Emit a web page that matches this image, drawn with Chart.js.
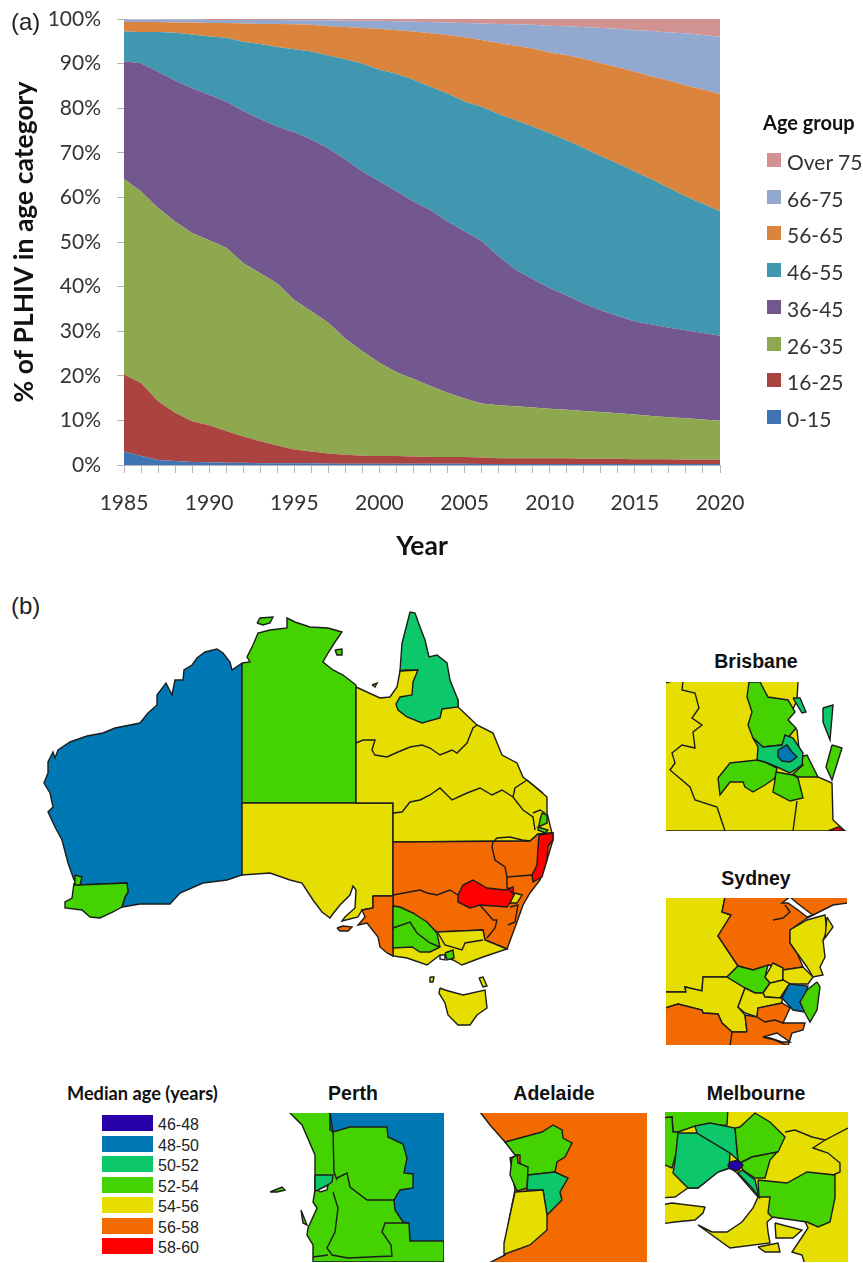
<!DOCTYPE html>
<html>
<head>
<meta charset="utf-8">
<title>PLHIV age</title>
<script src="https://cdn.jsdelivr.net/npm/chart.js@4/dist/chart.umd.min.js"></script>
<style>
   html, body { margin: 0; padding: 0; background: #fff; }
   #page { position: relative; width: 863px; height: 1263px; overflow: hidden; }
   canvas { position: absolute; display: block; }
   .txt { position: absolute; white-space: nowrap; line-height: 1; }
   .panel { font: bold 19.5px "Liberation Sans", sans-serif; color: #111; transform: translateX(-50%); }
   .tag { font: 24px "Liberation Sans", sans-serif; color: #222; }
   .sw { position: absolute; }
</style>
</head>
<body>
<div id="page"></div>
<script>
// panel (a): share of PLHIV per age group
const years = [];
for (let y = 1985; y <= 2020; y++) years.push(String(y));
const yTicks = [0, 10, 20, 30, 40, 50, 60, 70, 80, 90, 100];
const ageGroups = ['0-15', '16-25', '26-35', '36-45', '46-55', '56-65', '66-75', 'Over 75'];
const ageColors = ['#3F74B2', '#AB4441', '#8DA84E', '#72588F', '#4197B0', '#DB843D', '#92A8CF', '#D09391'];
const age0to15 = [3.0, 2.0, 1.1, 0.9, 0.7, 0.6, 0.5, 0.5, 0.4, 0.4, 0.4, 0.4, 0.3, 0.3, 0.3, 0.3, 0.3, 0.3, 0.3, 0.3, 0.3, 0.2, 0.2, 0.2, 0.2, 0.2, 0.2, 0.2, 0.2, 0.2, 0.2, 0.2, 0.2, 0.2, 0.2, 0.2];
const age16to25 = [17.3, 16.4, 13.2, 10.8, 9.1, 8.3, 7.1, 5.9, 4.9, 4.0, 3.1, 2.6, 2.3, 2.0, 1.8, 1.7, 1.7, 1.6, 1.5, 1.5, 1.5, 1.5, 1.3, 1.3, 1.3, 1.3, 1.3, 1.2, 1.2, 1.2, 1.1, 1.1, 1.1, 1.0, 1.0, 1.0];
const age26to35 = [43.8, 42.9, 43.3, 42.9, 42.2, 41.5, 41.1, 38.9, 37.7, 36.3, 33.5, 31.5, 29.3, 26.0, 23.4, 20.9, 18.8, 17.4, 15.9, 14.4, 13.1, 12.1, 11.9, 11.7, 11.4, 11.1, 10.9, 10.7, 10.5, 10.2, 10.0, 9.7, 9.4, 9.3, 9.0, 8.7];
const age36to45 = [26.4, 28.8, 30.6, 31.6, 32.5, 32.6, 32.8, 34.1, 34.6, 35.2, 37.6, 38.5, 39.1, 40.2, 40.3, 40.7, 40.6, 39.8, 39.4, 38.4, 37.5, 36.4, 33.4, 30.6, 28.8, 27.1, 25.6, 24.1, 22.8, 21.8, 20.9, 20.5, 20.1, 19.7, 19.4, 19.1];
const age46to55 = [6.7, 7.0, 8.9, 10.7, 12.0, 13.1, 14.3, 15.5, 16.8, 17.8, 18.6, 19.7, 20.8, 22.5, 24.2, 25.0, 26.3, 27.3, 27.7, 28.7, 29.1, 30.1, 31.9, 33.5, 34.2, 34.7, 34.8, 34.9, 34.5, 34.2, 33.6, 32.5, 31.3, 30.0, 29.0, 27.9];
const age56to65 = [2.1, 2.2, 2.2, 2.3, 2.7, 3.0, 3.3, 4.1, 4.5, 5.2, 5.6, 6.0, 6.6, 7.2, 8.0, 9.2, 9.8, 10.8, 12.0, 13.1, 14.4, 15.0, 15.9, 16.7, 17.5, 18.1, 19.1, 20.0, 20.9, 21.6, 22.4, 23.1, 24.1, 24.9, 25.6, 26.3];
const age66to75 = [0.6, 0.6, 0.6, 0.7, 0.7, 0.7, 0.7, 0.8, 0.9, 0.9, 0.9, 1.0, 1.3, 1.4, 1.6, 1.8, 2.0, 2.2, 2.5, 2.8, 3.2, 3.7, 4.3, 4.8, 5.3, 6.0, 6.5, 7.1, 7.9, 8.6, 9.3, 10.2, 10.8, 11.7, 12.2, 12.8];
const ageOver75 = [0.1, 0.1, 0.1, 0.1, 0.1, 0.2, 0.2, 0.2, 0.2, 0.2, 0.3, 0.3, 0.3, 0.4, 0.4, 0.4, 0.5, 0.6, 0.7, 0.8, 0.9, 1.0, 1.1, 1.2, 1.3, 1.5, 1.6, 1.8, 2.0, 2.2, 2.5, 2.7, 3.0, 3.2, 3.6, 4.0];
const ageSeries = [age0to15, age16to25, age26to35, age36to45, age46to55, age56to65, age66to75, ageOver75];

// panel (b): median age classes
const medianClasses = ['46-48', '48-50', '50-52', '52-54', '54-56', '56-58', '58-60'];
const medianColors = ['#2800AA', '#0078B4', '#0CC86A', '#44D200', '#E6DE00', '#F26A00', '#FF0000'];
const [M46, M48, M50, M52, M54, M56, M58] = medianColors;

// region outlines, vertices in map units
const waOutline = [[242,663],[232,670],[230,662],[223,653],[217,649],[205,652],[197,658],[192,665],[184,670],[183,680],[175,680],[172,695],[166,683],[157,695],[157,705],[148,713],[140,723],[115,728],[103,733],[87,736],[70,742],[58,750],[55,758],[53,752],[48,762],[48,773],[44,783],[50,793],[53,807],[48,812],[55,827],[62,840],[68,863],[74,880],[78,885],[127,883],[128,892],[125,897],[122,907],[140,904],[170,904],[180,893],[203,883],[227,880],[242,875]];
const swWa = [[74,883],[78,885],[127,883],[128,892],[125,897],[122,907],[113,912],[100,918],[90,917],[82,910],[65,908],[65,902],[72,898]];
const perthArea = [[75,875],[82,877],[80,885],[75,885]];
const ntOutline = [[242,663],[250,662],[247,657],[253,645],[258,633],[270,630],[287,628],[287,618],[295,622],[310,627],[328,628],[342,632],[335,642],[328,653],[323,662],[333,670],[343,675],[356,685],[356,803],[242,803]];
const tiwi = [[257,623],[260,618],[273,617],[270,623],[263,625]];
const groote = [[335,650],[342,649],[342,655],[337,655]];
const saOutline = [[242,803],[393,803],[393,896],[373,896],[373,908],[362,910],[358,917],[342,921],[345,917],[355,908],[356,890],[353,886],[350,895],[340,905],[332,915],[330,918],[322,912],[313,900],[302,883],[290,880],[270,873],[242,875]];
const seSa = [[373,896],[393,896],[393,956],[387,953],[380,947],[378,937],[367,923],[358,925],[365,917],[362,910],[373,908]];
const kangaroo = [[337,928],[343,926],[352,927],[348,931],[340,931]];
const qldOutline = [[356,687],[380,698],[390,697],[397,687],[400,671],[418,670],[440,690],[458,700],[458,707],[477,725],[493,733],[502,755],[517,763],[523,777],[533,785],[547,797],[547,813],[552,833],[538,834],[530,841],[393,842],[393,803],[356,803]];
const farNorthQld = [[410,612],[415,613],[420,627],[425,640],[429,657],[437,655],[447,663],[450,680],[458,700],[458,707],[442,709],[440,718],[422,723],[407,717],[398,710],[396,704],[400,697],[412,695],[413,682],[418,670],[405,670],[400,671],[402,643],[408,620]];
const qldLineA = [[356,743],[363,740],[375,740],[372,750],[375,755],[387,757],[398,752],[410,747],[422,745],[430,748],[440,755],[452,750],[457,753],[467,743],[473,728],[477,725]];
const qldLineB = [[393,813],[402,812],[410,802],[420,800],[430,795],[440,788],[452,800],[467,793],[480,788],[492,795],[502,790],[513,797],[523,810],[533,817],[535,830]];
const qldLineC = [[513,797],[515,788],[527,780],[543,793]];
const qldLineD = [[533,813],[540,810],[545,813]];
const brisbaneSmall = [[542,813],[547,815],[547,823],[538,827],[548,830],[545,833],[538,830],[540,820]];
const mornington = [[372,685],[377,683],[375,687]];
const nswOutline = [[393,842],[530,841],[538,834],[553,833],[553,840],[547,860],[540,880],[530,893],[523,905],[517,922],[507,949],[485,940],[483,930],[437,932],[413,913],[393,906]];
const vicOutline = [[393,906],[393,956],[407,958],[427,965],[440,955],[453,960],[462,965],[483,957],[507,949],[485,940],[483,930],[437,932],[413,913]];
const westVic = [[393,906],[400,907],[413,913],[427,922],[437,933],[440,947],[430,952],[420,952],[412,947],[393,948]];
const eastMelb = [[445,953],[453,950],[454,958],[447,960]];
const portPhillip = [[440,955],[445,955],[445,960],[440,959]];
const centralNsw = [[458,895],[463,885],[473,880],[487,888],[505,890],[513,887],[514,897],[507,907],[480,905],[470,908],[458,902]];
const northCoastNsw = [[539,835],[553,833],[553,840],[548,846],[547,860],[542,877],[533,882],[532,875],[537,865],[538,847]];
const sydneyNorth = [[515,893],[522,895],[517,903],[510,903]];
const vicLineA = [[393,928],[410,922],[417,933],[430,943],[440,947]];
const vicLineB = [[438,933],[445,945],[462,950],[465,943],[483,940]];
const nswLineA = [[393,895],[420,890],[427,893],[437,895],[450,890],[458,895]];
const nswLineB = [[493,842],[492,847],[495,860],[505,867],[507,877],[532,875]];
const nswLineC = [[507,877],[507,887],[514,895]];
const nswLineD = [[480,905],[493,920],[497,920],[495,928],[487,938]];
const nswLineE = [[510,907],[518,905],[515,922],[508,925]];
const nswLineF = [[493,842],[497,838],[510,837],[522,840],[530,841]];
const tasmania = [[440,988],[445,990],[463,995],[485,990],[487,1008],[477,1015],[470,1025],[458,1025],[448,1015],[445,1003],[439,993]];
const kingIsland = [[430,977],[434,977],[433,982],[430,982]];
const flinders = [[479,978],[483,977],[487,986],[483,987]];

const bneBase = [[665,681],[798,681],[797,700],[788,720],[797,730],[800,757],[818,777],[832,783],[833,820],[845,831],[665,831]];
const bneNorth = [[749,682],[760,682],[768,697],[788,700],[795,712],[788,720],[796,728],[782,745],[763,747],[753,738],[748,725],[752,712],[747,697]];
const bneWest = [[718,778],[730,763],[757,760],[765,762],[777,768],[775,778],[765,785],[753,792],[745,787],[743,782],[730,782],[720,795]];
const bneSouth = [[776,772],[793,775],[798,778],[803,798],[790,801],[773,792],[775,780]];
const bneEast = [[800,757],[807,755],[818,777],[798,777],[793,774],[803,765]];
const bneRing = [[753,738],[763,747],[782,745],[785,735],[793,738],[803,753],[802,765],[790,773],[777,767],[765,762],[757,760],[758,747]];
const bneInner = [[778,750],[787,745],[792,752],[797,757],[790,762],[782,761],[778,757]];
const bneStradN = [[823,708],[833,705],[830,740],[823,722]];
const bneStradS = [[832,745],[842,748],[832,780],[826,767]];
const bneBribie = [[793,698],[800,698],[806,712],[802,713]];
const bneRed = [[828,831],[838,827],[845,831]];
const bneLineA = [[683,681],[682,690],[695,693],[699,708],[692,718],[702,725],[693,732],[695,748],[682,745],[672,753],[675,763],[670,770],[690,787],[695,800],[717,807],[725,831]];
const bneLineB = [[665,683],[673,681]];
const bneLineC = [[797,801],[793,831]];

const sydWest = [[665,897],[725,897],[722,912],[731,915],[718,936],[738,966],[727,977],[703,977],[702,991],[685,987],[686,992],[665,992]];
const sydBand = [[665,992],[686,992],[685,987],[702,991],[703,977],[727,977],[745,988],[738,1007],[745,1015],[747,1032],[732,1032],[722,1023],[718,1014],[703,1013],[702,1010],[678,1004],[665,1008]];
const sydNorth = [[725,897],[848,897],[848,903],[833,905],[813,915],[807,918],[790,930],[790,943],[797,953],[803,967],[783,970],[770,965],[753,970],[738,966],[718,936],[731,915],[722,912]];
const sydHornsby = [[790,930],[807,920],[825,915],[827,932],[823,940],[825,957],[820,967],[823,975],[813,977],[807,967],[797,953],[790,943]];
const sydIslet = [[827,917],[833,927],[825,938]];
const sydCentral = [[727,977],[738,966],[753,970],[768,965],[765,977],[770,983],[763,993],[755,993],[745,988]];
const sydY3 = [[765,977],[773,963],[783,968],[783,980],[775,982],[770,983]];
const sydY4 = [[783,970],[803,967],[813,977],[808,984],[790,984],[783,980]];
const sydY5 = [[763,993],[770,983],[783,980],[790,984],[788,986],[780,998],[765,997]];
const sydY6 = [[745,988],[755,993],[763,993],[765,997],[782,998],[782,1003],[758,1008],[757,1017],[745,1013],[738,1007]];
const sydInner = [[790,984],[808,986],[805,995],[800,1002],[805,1012],[793,1010],[782,998],[788,986]];
const sydEast = [[817,982],[820,987],[817,1010],[810,1022],[805,1013],[800,1002],[807,990]];
const sydSouthW = [[665,1008],[678,1004],[702,1010],[703,1013],[718,1014],[722,1023],[732,1032],[733,1046],[665,1046]];
const sydSouthE = [[747,1032],[745,1015],[757,1017],[758,1008],[782,1003],[790,1008],[783,1023],[805,1023],[803,1030],[792,1033],[788,1046],[730,1046],[732,1032]];
const sydInletN = [[790,897],[797,903],[810,913],[813,915],[807,917],[798,910],[788,903],[782,903]];
const sydInletS = [[763,1037],[777,1033],[790,1042],[782,1042],[770,1038]];
const sydJagA = [[773,920],[783,918],[790,912],[785,905]];
const sydJagB = [[757,1017],[765,1022],[775,1020],[783,1023]];
const sydJagC = [[763,1037],[775,1040],[788,1046]];

const perGreen = [[289,1112],[330,1112],[444,1112],[444,1262],[313,1262],[313,1245],[307,1235],[308,1228],[317,1208],[313,1202],[315,1190],[315,1155],[302,1125]];
const perBlue = [[330,1112],[446,1112],[446,1241],[410,1241],[409,1223],[403,1222],[395,1210],[394,1200],[400,1190],[413,1188],[413,1174],[404,1173],[407,1158],[403,1144],[388,1137],[387,1127],[350,1127],[333,1132],[330,1130]];
const perTeal = [[315,1175],[333,1175],[332,1182],[320,1190],[315,1191]];
const perRiver = [[318,1190],[328,1185],[327,1190],[320,1192]];
const perLineA = [[330,1112],[333,1132],[334,1172],[337,1180]];
const perLineB = [[337,1178],[347,1173],[350,1187],[367,1200],[395,1200]];
const perLineC = [[333,1192],[338,1208],[335,1232],[327,1248],[332,1255],[348,1258],[392,1256],[391,1245],[382,1232],[385,1223],[409,1223]];
const perLineD = [[313,1257],[328,1255]];
const rottnest = [[270,1192],[282,1187],[285,1190],[277,1192]];
const garden = [[301,1210],[307,1225],[303,1223]];

const adlBase = [[480,1112],[649,1112],[649,1264],[487,1264],[505,1255],[505,1243],[510,1215],[515,1190],[510,1158],[518,1155],[505,1142],[490,1125]];
const adlNorth = [[505,1142],[542,1132],[553,1125],[562,1130],[563,1138],[572,1143],[565,1157],[557,1162],[555,1172],[540,1174],[528,1175],[520,1163],[520,1155],[515,1155]];
const adlCoast = [[512,1158],[517,1155],[518,1163],[528,1167],[527,1188],[517,1191],[510,1175]];
const adlHills = [[528,1175],[555,1172],[568,1178],[560,1192],[562,1200],[547,1215],[543,1190],[527,1190]];
const adlSouth = [[515,1192],[543,1190],[547,1215],[547,1230],[530,1245],[505,1254],[504,1243],[510,1215]];

const melBase = [[665,1112],[848,1112],[848,1262],[665,1262]];
const melWater = [[660,1198],[675,1197],[688,1188],[698,1188],[718,1172],[730,1168],[737,1173],[758,1197],[753,1208],[742,1222],[727,1232],[712,1232],[698,1225],[730,1248],[770,1243],[768,1232],[767,1222],[773,1217],[802,1215],[808,1228],[800,1240],[792,1252],[802,1255],[806,1268],[660,1268]];
const melBellarine = [[660,1205],[672,1203],[705,1207],[703,1213],[695,1220],[675,1222],[660,1224]];
const melFrench = [[775,1223],[802,1230],[793,1238],[776,1238]];
const melPhillip = [[758,1247],[778,1243],[780,1252],[765,1252]];
const melTop = [[660,1108],[728,1108],[727,1125],[695,1126],[678,1132],[673,1132],[672,1117],[660,1118]];
const melLeft = [[660,1118],[672,1117],[673,1132],[678,1132],[677,1150],[672,1168],[660,1163]];
const melT1 = [[678,1133],[697,1133],[730,1153],[729,1168],[718,1172],[698,1188],[688,1188],[673,1173],[675,1162]];
const melT2 = [[695,1126],[710,1123],[735,1128],[738,1160],[730,1153],[697,1133]];
const melG3 = [[735,1128],[740,1127],[755,1113],[770,1122],[785,1137],[778,1152],[752,1157],[740,1163],[738,1160]];
const melG4 = [[740,1163],[752,1157],[777,1152],[770,1160],[765,1178],[755,1178],[743,1170]];
const melT3 = [[742,1170],[755,1180],[759,1197],[752,1188],[738,1173]];
const melG5 = [[758,1180],[787,1183],[807,1172],[835,1175],[835,1198],[830,1222],[818,1227],[807,1222],[772,1217],[768,1213],[770,1197],[759,1197]];
const melCentre = [[730,1162],[738,1160],[743,1165],[738,1171],[730,1169],[728,1165]];
const melLineA = [[785,1132],[795,1130],[812,1137],[825,1140],[848,1128]];
const melLineB = [[825,1140],[813,1148],[828,1153],[840,1163],[840,1172],[833,1175]];

const WHITE = '#ffffff';
const page = document.getElementById('page');

function addText(cls, left, top, text, css) {
   const d = document.createElement('div');
   d.className = 'txt ' + cls;
   d.style.left = left + 'px';
   d.style.top = top + 'px';
   if (css) d.style.cssText += css;
   d.textContent = text;
   page.appendChild(d);
}

function addCanvas(left, top, width, height) {
   const c = document.createElement('canvas');
   c.width = width;
   c.height = height;
   c.style.left = left + 'px';
   c.style.top = top + 'px';
   page.appendChild(c);
   return c.getContext('2d');
}

// Stacked area chart
new Chart(addCanvas(0, 0, 863, 570), {
   type: 'line',
   data: {
      labels: years,
      datasets: ageSeries.map((values, i) => ({
         label: ageGroups[i],
         data: values,
         fill: i === 0 ? 'origin' : '-1',
         backgroundColor: ageColors[i],
         borderWidth: 0,
         pointRadius: 0,
         tension: 0
      }))
   },
   options: {
      responsive: false,
      animation: false,
      layout: { padding: { top: 19, right: 143, left: 0, bottom: 0 } },
      plugins: { legend: { display: false }, tooltip: { enabled: false } },
      scales: {
         x: {
            grid: { drawOnChartArea: false, color: '#b4b4b4', tickLength: 8 },
            border: { color: '#b4b4b4' },
            afterFit: s => { s.height = 105; },
            ticks: {
               autoSkip: false,
               maxRotation: 0,
               padding: 18,
               color: '#333',
               font: { family: 'Lato', size: 21 },
               callback: function (v, i) { return i % 5 === 0 ? years[i] : ''; }
            },
            title: {
               display: true,
               text: 'Year',
               color: '#111',
               font: { family: 'Lato', size: 26.5, weight: 'bold' },
               padding: { top: 0, bottom: 8 }
            }
         },
         y: {
            stacked: true,
            min: 0,
            max: 100,
            grid: { drawOnChartArea: false, color: '#b4b4b4', tickLength: 7 },
            border: { color: '#b4b4b4' },
            // tick padding would otherwise push the plot area down
            afterFit: s => { s.width = 124; s.paddingTop = 0; s.paddingBottom = 0; },
            ticks: {
               stepSize: 10,
               padding: 16,
               color: '#333',
               font: { family: 'Lato', size: 21 },
               callback: v => yTicks.includes(v) ? v + '%' : ''
            },
            title: {
               display: true,
               text: '% of PLHIV in age category',
               color: '#111',
               font: { family: 'Lato', size: 26.5, weight: 'bold' },
               padding: { top: 8.5, bottom: 0 }
            }
         }
      }
   }
});

addText('tag', 11, 8, '(a)');
addText('tag', 11, 592, '(b)');

// Legend of panel (a)
addText('', 763, 110, 'Age group', 'font:bold 20px Lato,sans-serif;color:#111;');
ageGroups.slice().reverse().forEach((name, i) => {
   const sw = document.createElement('div');
   sw.className = 'sw';
   sw.style.cssText = `left:767px;top:${153 + i * 36.7}px;width:14px;height:14px;background:${ageColors[7 - i]};`;
   page.appendChild(sw);
   addText('', 787, 149 + i * 36.7, name, 'font:21px Lato,sans-serif;color:#333;');
});

// Legend of panel (b)
addText('', 67, 1082, 'Median age (years)', 'font:bold 18.2px Lato,sans-serif;color:#111;');
medianClasses.forEach((name, i) => {
   const sw = document.createElement('div');
   sw.className = 'sw';
   sw.style.cssText = `left:102px;top:${1115 + i * 20.5}px;width:51px;height:16px;background:${medianColors[i]};`;
   page.appendChild(sw);
   addText('', 158, 1116 + i * 20.5, name, 'font:16px "Liberation Sans",sans-serif;color:#222;');
});

function toPoints(list) {
   return list.map(p => ({ x: p[0], y: p[1] }));
}

function region(list, color) {
   return { data: toPoints(list.concat([list[0]])), showLine: true, fill: 'shape', backgroundColor: color, borderColor: '#1c1c1c', borderWidth: 1.4, pointRadius: 0, tension: 0, clip: 0 };
}

function flat(list, color) {
   return { data: toPoints(list.concat([list[0]])), showLine: true, fill: 'shape', backgroundColor: color, borderColor: color, borderWidth: 0, pointRadius: 0, tension: 0, clip: 0 };
}

function boundary(list) {
   return { data: toPoints(list), showLine: true, fill: false, borderColor: '#1c1c1c', borderWidth: 1.4, pointRadius: 0, tension: 0, clip: 0 };
}

function mapChart(x0, y0, x1, y1, layers) {
   // later layers paint over earlier ones
   layers.forEach((d, i) => { d.order = layers.length - i; });
   new Chart(addCanvas(x0, y0, x1 - x0, y1 - y0), {
      type: 'scatter',
      data: { datasets: layers },
      options: {
         responsive: false,
         animation: false,
         layout: { padding: 0 },
         plugins: { legend: { display: false }, tooltip: { enabled: false } },
         scales: {
            x: { display: false, min: x0, max: x1 },
            y: { display: false, min: y0, max: y1, reverse: true }
         }
      }
   });
}

mapChart(0, 595, 660, 1060, [
   region(waOutline, M48), region(swWa, M52), region(perthArea, M52),
   region(ntOutline, M52), region(tiwi, M52), region(groote, M52),
   region(saOutline, M54), region(qldOutline, M54), region(farNorthQld, M50), region(mornington, M54),
   boundary(qldLineA), boundary(qldLineB), boundary(qldLineC), boundary(qldLineD), region(brisbaneSmall, M52),
   region(nswOutline, M56), region(vicOutline, M54), region(seSa, M56), region(kangaroo, M56),
   region(westVic, M52), region(eastMelb, M52), region(portPhillip, WHITE),
   region(centralNsw, M58), region(northCoastNsw, M58), region(sydneyNorth, M54),
   boundary(vicLineA), boundary(vicLineB), boundary(nswLineA), boundary(nswLineB), boundary(nswLineC),
   boundary(nswLineD), boundary(nswLineE), boundary(nswLineF),
   region(tasmania, M54), region(kingIsland, M54), region(flinders, M54)
]);

addText('panel', 756, 650, 'Brisbane');
mapChart(666, 682, 847, 831, [
   region(bneBase, M54),
   region(bneNorth, M52), region(bneWest, M52), region(bneSouth, M52), region(bneEast, M52),
   region(bneRing, M50), region(bneInner, M48),
   region(bneStradN, M50), region(bneStradS, M52), region(bneBribie, M50), region(bneRed, M58),
   boundary(bneLineA), boundary(bneLineB), boundary(bneLineC)
]);

addText('panel', 756, 867, 'Sydney');
mapChart(666, 898, 847, 1045, [
   region(sydWest, M54), region(sydBand, M54), region(sydNorth, M56), region(sydHornsby, M54), region(sydIslet, M54),
   region(sydCentral, M52), region(sydY3, M54), region(sydY4, M54), region(sydY5, M54), region(sydY6, M54),
   region(sydInner, M48), region(sydEast, M52), region(sydSouthW, M56), region(sydSouthE, M56),
   region(sydInletN, WHITE), region(sydInletS, WHITE),
   boundary(sydJagA), boundary(sydJagB), boundary(sydJagC)
]);

addText('panel', 353, 1082, 'Perth');
mapChart(265, 1113, 444, 1262, [
   region(perGreen, M52), flat(perBlue, M48), region(perTeal, M50), region(perRiver, WHITE),
   boundary(perBlue.slice(2).concat([[330,1112]])),
   boundary(perLineA), boundary(perLineB), boundary(perLineC), boundary(perLineD),
   region(rottnest, M52), region(garden, M52)
]);

addText('panel', 554, 1082, 'Adelaide');
mapChart(480, 1113, 647, 1262, [
   region(adlBase, M56), region(adlNorth, M52), region(adlCoast, M52), region(adlHills, M50), region(adlSouth, M54)
]);

addText('panel', 756, 1082, 'Melbourne');
mapChart(665, 1112, 848, 1262, [
   flat(melBase, M54), region(melWater, WHITE), region(melBellarine, M54), region(melFrench, M54), region(melPhillip, M54),
   region(melTop, M52), region(melLeft, M52), region(melT1, M50), region(melT2, M50), region(melG3, M52), region(melG4, M52),
   region(melT3, M50), region(melG5, M52), region(melCentre, M46),
   boundary(melLineA), boundary(melLineB)
]);
</script>
</body>
</html>
